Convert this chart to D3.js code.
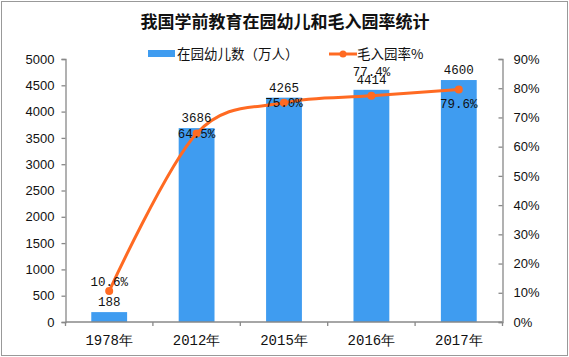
<!DOCTYPE html>
<html><head><meta charset="utf-8">
<script src="https://cdn.jsdelivr.net/npm/d3@7"></script>
<style>body{margin:0;background:#fff}svg{display:block}</style>
</head><body>
<script>
const categories = ["1978年","2012年","2015年","2016年","2017年"];
const enrolled = [188, 3686, 4265, 4414, 4600];
const rate = [10.6, 64.5, 75.0, 77.4, 79.6];
const leftTicks = [0,500,1000,1500,2000,2500,3000,3500,4000,4500,5000];
const rightTicks = [0,10,20,30,40,50,60,70,80,90];
const ratePlacement = ["above","center","center","high","below"];
const title = "我国学前教育在园幼儿和毛入园率统计";
const legendNames = ["在园幼儿数（万人）","毛入园率%"];

const W=569,H=357;
const barColor="#3F9CF0", lineColor="#FF6A22";
const mono="'Liberation Mono','DejaVu Sans Mono',monospace";
const sans="'Liberation Sans',Arial,sans-serif";
const cjk="'Noto Sans CJK SC',sans-serif";

const svg=d3.select("body").append("svg").attr("width",W).attr("height",H);
svg.append("rect").attr("x",1.5).attr("y",1.5).attr("width",W-3).attr("height",H-3)
  .attr("fill","#fff").attr("stroke","#999").attr("stroke-width",1);

const x0=65.5,x1=502.5,yB=322,yT=59;
const x=d3.scaleBand().domain(categories).range([x0,x1]).paddingInner(0.59).paddingOuter(0.295);
const yL=d3.scaleLinear().domain([0,5000]).range([yB,yT]);
const yR=d3.scaleLinear().domain([0,90]).range([yB,yT]);

// title
svg.append("text").attr("x",285).attr("y",28).attr("text-anchor","middle")
  .attr("font-family",cjk).attr("font-weight","bold").attr("font-size",17).attr("fill","#111").text(title);

// legend
svg.append("rect").attr("x",148).attr("y",50).attr("width",27).attr("height",7).attr("fill",barColor);
svg.append("text").attr("x",177).attr("y",59).attr("font-family",cjk).attr("font-size",13.5).attr("fill","#111").text(legendNames[0]);
svg.append("line").attr("x1",329).attr("x2",357).attr("y1",54).attr("y2",54).attr("stroke",lineColor).attr("stroke-width",3);
svg.append("circle").attr("cx",343).attr("cy",54).attr("r",3.5).attr("fill",lineColor);
svg.append("text").attr("x",357).attr("y",59).attr("font-family",cjk).attr("font-size",13.5).attr("fill","#111").text(legendNames[1]);

// bars
svg.append("g").selectAll("rect").data(enrolled).join("rect")
  .attr("x",(d,i)=>x(categories[i])).attr("width",x.bandwidth())
  .attr("y",d=>yL(d)).attr("height",d=>yB-yL(d)).attr("fill",barColor);

// axes
const axisColor="#888";
const gL=svg.append("g").attr("transform",`translate(${x0},0)`)
  .call(d3.axisLeft(yL).tickValues(leftTicks).tickFormat(d3.format("d")).tickSize(4).tickPadding(7));
const gR=svg.append("g").attr("transform",`translate(${x1},0)`)
  .call(d3.axisRight(yR).tickValues(rightTicks).tickFormat(d=>d+"%").tickSize(-4).tickPadding(11));
const gX=svg.append("g").attr("transform",`translate(0,${yB})`)
  .call(d3.axisBottom(x).tickSize(0).tickPadding(13));
[gL,gR,gX].forEach(g=>{
  g.select(".domain").attr("stroke",axisColor).attr("stroke-width",1.3);
  g.selectAll(".tick line").attr("stroke",axisColor).attr("stroke-width",1.3);
  g.selectAll("text").attr("fill","#111").attr("font-size",13);
});
gL.selectAll("text").attr("font-family",sans);
gR.selectAll("text").attr("font-family",sans);
gX.selectAll("text").attr("font-family",mono).attr("font-size",14);
gX.select(".domain").attr("d",`M${x0},0H${x1}`);
// x boundary ticks
const bounds=[x0].concat(categories.map(c=>x(c)+x.bandwidth()/2+x.step()/2));
gX.selectAll(".bt").data(bounds).join("line").attr("class","bt")
  .attr("x1",d=>d).attr("x2",d=>d).attr("y1",0).attr("y2",4)
  .attr("stroke",axisColor).attr("stroke-width",1.3);

// line
const cx=(i)=>x(categories[i])+x.bandwidth()/2;
const line=d3.line().x((d,i)=>cx(i)).y(d=>yR(d)).curve(d3.curveCardinal.tension(0));
svg.append("path").datum(rate).attr("d",line).attr("fill","none").attr("stroke",lineColor).attr("stroke-width",3);
svg.append("g").selectAll("circle").data(rate).join("circle")
  .attr("cx",(d,i)=>cx(i)).attr("cy",d=>yR(d)).attr("r",4).attr("fill",lineColor);

// labels
svg.append("g").selectAll("text").data(enrolled).join("text")
  .attr("x",(d,i)=>cx(i)).attr("y",d=>yL(d)-6).attr("text-anchor","middle")
  .attr("font-family",mono).attr("font-size",12.5).attr("fill","#111").text(d=>d);
svg.append("g").selectAll("text").data(rate).join("text")
  .attr("x",(d,i)=>cx(i))
  .attr("y",(d,i)=>{const p=ratePlacement[i];const yy=yR(d);
     return p==="above"? yy-5 : p==="high"? yy-20 : p==="below"? yy+19 : yy+4.5;})
  .attr("text-anchor","middle").attr("font-family",mono).attr("font-size",12.5).attr("fill","#111")
  .text(d=>d.toFixed(1)+"%");
</script>
</body></html>
